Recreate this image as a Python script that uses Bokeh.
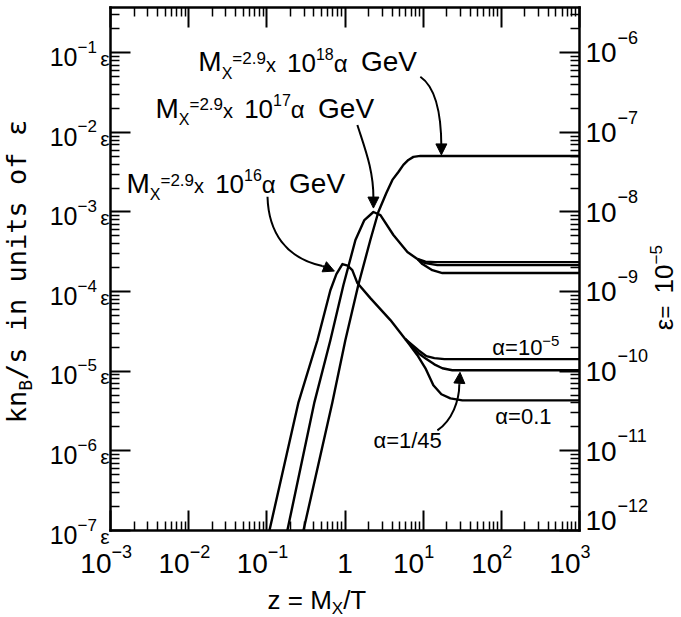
import math
from bokeh.plotting import figure
from bokeh.models import LogAxis, FixedTicker, Label, Arrow, NormalHead, CustomJSTickFormatter
from bokeh.embed import file_html
from bokeh.resources import INLINE

# ---- data: kn_B/s in units of epsilon versus z = M_X / T ----
# M_X = 2.9e18 alpha GeV (all alpha values give one curve)
z18 = [0.294, 0.690, 1.01, 1.48, 2.11, 2.67, 3.38, 4.04, 4.82, 5.58, 6.47, 7.50, 9.21, 1000]
y18 = [1e-7, 4.07e-6, 2.45e-5, 1.21e-4, 4.45e-4, 1.0e-3, 1.73e-3, 2.53e-3, 3.18e-3,
       3.90e-3, 4.51e-3, 4.92e-3, 5.06e-3, 5.06e-3]

# M_X = 2.9e17 alpha GeV: common rise and fall, then one tail per alpha
z17 = [0.183, 0.406, 0.650, 0.955, 1.36, 1.77, 2.31, 2.84, 4.16, 6.28, 8.43]
y17 = [1e-7, 4.07e-6, 2.45e-5, 1.21e-4, 4.45e-4, 7.92e-4, 1.0e-3, 9.16e-4, 5.14e-4, 3.14e-4, 2.57e-4]
z17_a5 = [8.43, 10.7, 14.3, 1000]
y17_a5 = [2.57e-4, 2.38e-4, 2.35e-4, 2.35e-4]
z17_a45 = [8.43, 10.7, 15.2, 1000]
y17_a45 = [2.57e-4, 2.28e-4, 2.15e-4, 2.15e-4]
z17_a01 = [8.43, 9.77, 13.1, 17.6, 1000]
y17_a01 = [2.57e-4, 2.22e-4, 1.86e-4, 1.71e-4, 1.71e-4]

# M_X = 2.9e16 alpha GeV
z16 = [0.108, 0.254, 0.444, 0.650, 0.776, 0.927, 1.08, 1.24, 1.44, 2.11, 3.81, 5.92]
y16 = [1e-7, 4.07e-6, 2.45e-5, 1.04e-4, 1.66e-4, 2.22e-4, 2.12e-4, 1.86e-4, 1.28e-4,
       8.28e-5, 4.39e-5, 2.53e-5]
z16_a5 = [5.92, 8.69, 11.0, 13.9, 18.7, 1000]
y16_a5 = [2.53e-5, 1.84e-5, 1.55e-5, 1.46e-5, 1.42e-5, 1.42e-5]
z16_a45 = [5.92, 8.69, 11.0, 13.9, 17.6, 23.6, 1000]
y16_a45 = [2.53e-5, 1.68e-5, 1.42e-5, 1.22e-5, 1.09e-5, 1.03e-5, 1.03e-5]
z16_a01 = [5.92, 8.43, 10.7, 13.5, 17.1, 22.3, 31.7, 1000]
y16_a01 = [2.53e-5, 1.59e-5, 1.09e-5, 6.67e-6, 5.14e-6, 4.57e-6, 4.31e-6, 4.31e-6]

x_exps = [-3, -2, -1, 0, 1, 2, 3]
y_exps = [-7, -6, -5, -4, -3, -2, -1]
eps_exp = -5          # right axis = left axis times 10**eps_exp

# plot box in data units
X_LO, X_HI = 1e-3, 1e3
Y_LO, Y_TOP = 1e-7, 0.37

# page geometry: the frame fills the page and the axes are pinned to the box,
# so tick labels and titles around the box stay inside the drawable frame
FRAME_W, FRAME_H = 681, 617
BOX_L, BOX_R = 110, 579          # frame pixels
BOX_T, BOX_B = 7, 530

lx0, lx1 = math.log10(X_LO), math.log10(X_HI)
ly0, ly1 = math.log10(Y_LO), math.log10(Y_TOP)
xpd = (BOX_R - BOX_L) / (lx1 - lx0)
ypd = (BOX_B - BOX_T) / (ly1 - ly0)
x_range = (10 ** (lx0 - BOX_L / xpd), 10 ** (lx1 + (FRAME_W - BOX_R) / xpd))
y_range = (10 ** (ly0 - (FRAME_H - BOX_B) / ypd), 10 ** (ly1 + BOX_T / ypd))

FONT = "Liberation Sans"
MONO = "DejaVu Sans Mono"
MID = 0.35            # distance from baseline to the text's middle line, in em
W = {'0': .556, '1': .556, '2': .556, '3': .556, '4': .556, '5': .556, '6': .556, '7': .556,
     '8': .556, '9': .556, '.': .278, '=': .584, 'x': .5, 'M': .833, 'X': .667, 'G': .778,
     'e': .556, 'V': .667, ' ': .278, '/': .278, 'T': .611, 'z': .5, '\u2212': .584,
     '\u03b1': .578, '\u03b5': .45, 'k': .5, 'n': .556, 's': .5, 'B': .667}


def tw(s, size, font=FONT):
    if font == MONO:
        return 0.602 * size * len(s)
    return sum(W.get(c, 0.55) for c in s) * size


def label(p, x, y, text, size, dx=0, dy=0, align="left", vertical=False, font=FONT):
    # (dx, dy) place the baseline; the label itself is anchored on its middle line
    if vertical:
        dx, angle = dx - MID * size, math.pi / 2
    else:
        dy, angle = dy + MID * size, 0.0
    p.add_layout(Label(x=x, y=y, x_offset=dx, y_offset=dy, text=text, angle=angle,
                       text_font=font, text_font_size=f"{size}px", text_align=align,
                       text_baseline="middle", text_color="black"))


def runs_h(p, x, y, runs, dx=0, dy=0, align="left", font=FONT):
    total = sum(tw(t, s, font) for t, s, r in runs)
    off = dx - (total if align == "right" else total / 2 if align == "center" else 0)
    for t, s, r in runs:
        label(p, x, y, t, s, dx=off, dy=dy + r, font=font)
        off += tw(t, s, font)


def runs_v(p, x, y, runs, dx=0, dy=0, font=FONT):
    off = dy
    for t, s, r in runs:
        label(p, x, y, t, s, dx=dx - r, dy=off, vertical=True, font=font)
        off += tw(t, s, font)


p = figure(x_axis_type="log", y_axis_type="log", x_range=x_range, y_range=y_range,
           frame_width=FRAME_W, frame_height=FRAME_H, min_border=0,
           toolbar_location=None, output_backend="svg",
           background_fill_color="white", border_fill_color="white")
p.outline_line_color = None
p.xgrid.visible = False
p.ygrid.visible = False

xt = FixedTicker(ticks=[10.0 ** k for k in x_exps],
                 minor_ticks=[m * 10.0 ** k for k in x_exps[:-1] for m in range(2, 10)])
yt = FixedTicker(ticks=[10.0 ** k for k in y_exps],
                 minor_ticks=[m * 10.0 ** k for k in y_exps for m in range(2, 10)
                              if m * 10.0 ** k <= Y_TOP])


def style(ax, ticker, bounds, loc):
    ax.ticker = ticker
    ax.bounds = bounds
    ax.fixed_location = loc
    ax.formatter = CustomJSTickFormatter(code="return ''")
    ax.major_tick_in = 20
    ax.major_tick_out = 0
    ax.minor_tick_in = 9
    ax.minor_tick_out = 0
    ax.axis_line_width = 2.5
    ax.axis_line_cap = "square"
    ax.major_tick_line_width = 2
    ax.minor_tick_line_width = 1.5
    ax.major_label_text_font_size = "1px"
    ax.major_label_standoff = 0


style(p.xaxis[0], xt, (X_LO, X_HI), Y_LO)
style(p.yaxis[0], yt, (Y_LO, Y_TOP), X_LO)
top = LogAxis()
style(top, xt, (X_LO, X_HI), Y_TOP)
p.add_layout(top, "above")
right = LogAxis()
style(right, yt, (Y_LO, Y_TOP), X_HI)
p.add_layout(right, "right")

# ---- curves ----
LW = 2.4
for zs, ys in [(z18, y18), (z17, y17), (z17_a5, y17_a5), (z17_a45, y17_a45), (z17_a01, y17_a01),
               (z16, y16), (z16_a5, y16_a5), (z16_a45, y16_a45), (z16_a01, y16_a01)]:
    p.line(zs, ys, line_width=LW, line_color="black", line_join="round")

# ---- curved pointers with heads ----
curves = [
    # (x0, y0, cx0, cy0, cx1, cy1, x1, y1, head_x, head_y)
    (9.2, 0.0499, 14.8, 0.0363, 17.1, 0.0166, 17.1, 6.38e-3, 17.1, 5.21e-3),
    (1.44, 0.0124, 1.82, 6.03e-3, 2.31, 3.37e-3, 2.31, 1.50e-3, 2.31, 1.12e-3),
    (0.102, 1.55e-3, 0.105, 5.6e-4, 0.173, 2.64e-4, 0.514, 2.10e-4, 0.731, 1.81e-4),
    (15.2, 1.81e-6, 23.6, 2.42e-6, 29.0, 4.31e-6, 29.0, 6.85e-6, 29.6, 9.7e-6),
]
for x0, y0, cx0, cy0, cx1, cy1, x1, y1, hx, hy in curves:
    p.bezier(x0=[x0], y0=[y0], cx0=[cx0], cy0=[cy0], cx1=[cx1], cy1=[cy1], x1=[x1], y1=[y1],
             line_width=2, line_color="black")
    p.add_layout(Arrow(x_start=x1, y_start=y1, x_end=hx, y_end=hy, line_width=2,
                       end=NormalHead(size=11, fill_color="black", line_color="black")))

# ---- tick labels ----
for k in y_exps:
    v = 10.0 ** k
    label(p, X_LO, v, "10", 25, dx=-33, dy=-13, align="right")
    label(p, X_LO, v, f"\u2212{-k}", 17, dx=-33, dy=0)
    label(p, X_LO, v, "\u03b5", 21, dx=-1, dy=-13, align="right")
    rk = k + eps_exp
    lift = 10 if k == y_exps[0] else 0
    label(p, X_HI, v, "10", 28, dx=6, dy=-10 + lift)
    label(p, X_HI, v, f"\u2212{-rk}", 18, dx=38, dy=9 + lift)

for k in x_exps:
    v = 10.0 ** k
    if k == 0:
        label(p, v, Y_LO, "1", 28, dx=0, dy=-43, align="center")
        continue
    label(p, v, Y_LO, "10", 28, dx=1, dy=-43, align="right")
    exp_txt = f"\u2212{-k}" if k < 0 else f"{k}"
    label(p, v, Y_LO, exp_txt, 18, dx=1, dy=-27)

# ---- axis titles ----
runs_h(p, 0.102, Y_LO, [("z = M", 26, 0), ("X", 17, -5), ("/T", 26, 0)], dy=-79)
runs_v(p, X_LO, 2.22e-6, [("kn", 27, 0), ("B", 18, -6), ("/s in units of \u03b5", 27, 0)],
       dx=-85, font=MONO)
runs_v(p, X_HI, 3.28e-5, [("\u03b5", 26, 0), (" = ", 22, 0), ("10", 26, 0),
                          (f"\u2212{-eps_exp}", 17, 12)], dx=94)

# ---- curve annotations ----
for x, y, e in [(0.0133, 0.0577, 18), (3.76e-3, 0.0152, 17), (1.60e-3, 1.73e-3, 16)]:
    runs_h(p, x, y, [("M", 28, 0), ("X", 16, -7), ("=2.9", 17, 7), (" x ", 20, 0),
                     ("10", 26, 0), (str(e), 16, 12), (" \u03b1 ", 24, 0), ("GeV", 28, 0)])

runs_h(p, 76.7, 1.59e-5, [("\u03b1=10", 22, 0), ("\u22125", 15, 9)])
runs_h(p, 83.8, 2.16e-6, [("\u03b1=0.1", 22, 0)])
runs_h(p, 2.31, 1.07e-6, [("\u03b1=1/45", 22, 0)])

open("out.html", "w").write(file_html(p, INLINE))
